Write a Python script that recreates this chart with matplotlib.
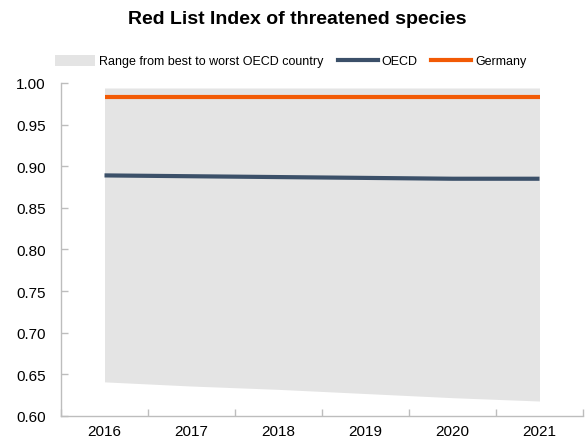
import matplotlib
matplotlib.use("Agg")
import matplotlib.pyplot as plt
from matplotlib.patches import Patch
from matplotlib.lines import Line2D
from matplotlib.ticker import FixedLocator, NullFormatter

plt.rcParams['font.family'] = ['Liberation Sans', 'DejaVu Sans']

years = ["2016", "2017", "2018", "2019", "2020", "2021"]
range_best = [0.994, 0.994, 0.994, 0.994, 0.994, 0.994]
range_worst = [0.641, 0.636, 0.632, 0.627, 0.622, 0.618]
oecd = [0.889, 0.888, 0.887, 0.886, 0.885, 0.885]
germany = [0.983, 0.983, 0.983, 0.983, 0.983, 0.983]

c_fill = "#e4e4e4"
c_oecd = "#3b5069"
c_de = "#f25a05"
c_axis = "#bdbdbd"

fig = plt.figure(figsize=(5.88, 4.39), dpi=100)
ax = fig.add_axes([61/588, 1-417/439, (583-61)/588, (417-84)/439])

x = list(range(len(years)))
ax.fill_between(x, range_worst, range_best, color=c_fill, linewidth=0)
ax.plot(x, oecd, color=c_oecd, linewidth=3, solid_capstyle='butt')
ax.plot(x, germany, color=c_de, linewidth=3, solid_capstyle='butt')

ax.set_xlim(-0.5, len(years) - 0.5)
ax.set_ylim(0.60, 1.00)
yt = [0.60, 0.65, 0.70, 0.75, 0.80, 0.85, 0.90, 0.95, 1.00]
ax.set_yticks(yt)
ax.set_yticklabels([f"{v:.2f}" for v in yt])

ax.xaxis.set_major_locator(FixedLocator([i + 0.5 for i in range(-1, len(years))]))
ax.xaxis.set_major_formatter(NullFormatter())
ax.xaxis.set_minor_locator(FixedLocator(x))
ax.set_xticklabels(years, minor=True)
ax.tick_params(axis='x', which='major', direction='in', length=5, color=c_axis, width=1)
ax.tick_params(axis='x', which='minor', length=0, pad=6, labelsize=11, labelcolor="#000000")
ax.tick_params(axis='y', direction='in', length=5, color=c_axis, width=1, labelsize=11, pad=11)

for s in ['top', 'right']:
    ax.spines[s].set_visible(False)
for s in ['left', 'bottom']:
    ax.spines[s].set_color(c_axis)
    ax.spines[s].set_linewidth(1)

fig.text(297/588, 1-20/439, "Red List Index of threatened species", ha='center', va='center',
         fontsize=14, fontweight='bold')

handles = [Patch(facecolor=c_fill, edgecolor='none'),
           Line2D([0], [0], color=c_oecd, lw=3),
           Line2D([0], [0], color=c_de, lw=3)]
labels = ["Range from best to worst OECD country", "OECD", "Germany"]
fig.legend(handles, labels, loc='center', bbox_to_anchor=(291/588, 1-62/439), ncol=3,
           frameon=False, fontsize=9, handlelength=3.2, handleheight=1.0,
           handletextpad=0.32, columnspacing=1.1, borderaxespad=0, borderpad=0)

fig.savefig("out.png", dpi=100)
